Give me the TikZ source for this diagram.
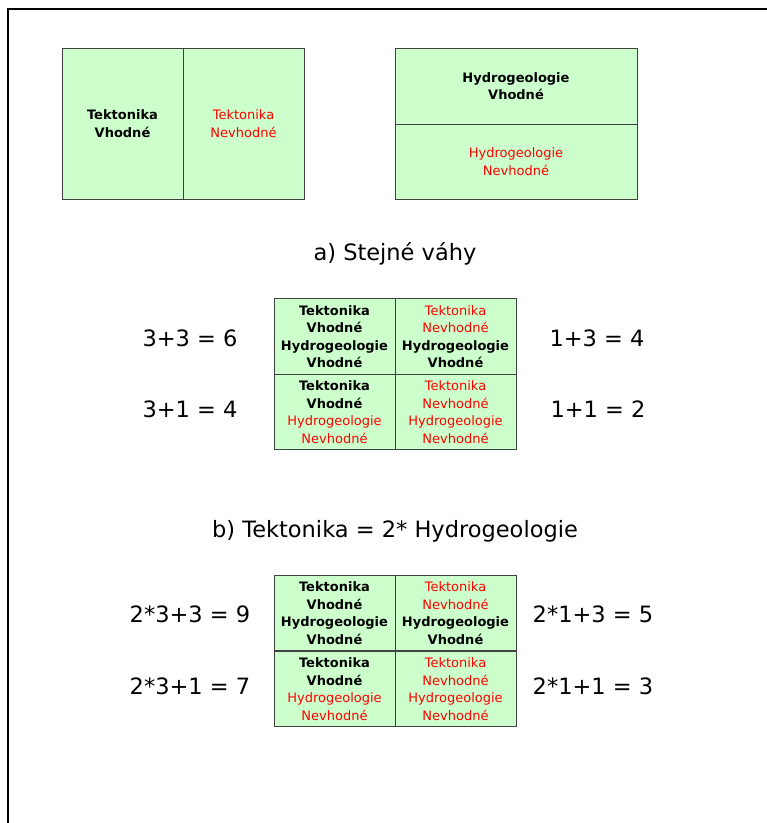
\documentclass[tikz,border=0pt]{standalone}
\usepackage{fontspec}
\setmainfont{DejaVu Sans}

\definecolor{cellgreen}{HTML}{CCFFCC}
\newcommand{\vh}[1]{\textbf{#1}}
\newcommand{\nv}[1]{\textcolor{red}{#1}}

\tikzset{
    cell/.style={draw=black!75, line width=1pt, fill=cellgreen, align=center,
        inner sep=0pt, font=\fontsize{13}{17.5}\selectfont},
    quad/.style={cell, minimum width=121pt, minimum height=75.5pt},
    eq/.style={font=\fontsize{22.5}{27}\selectfont},
}

\begin{document}
\begin{tikzpicture}[x=1pt,y=-1pt]
    \useasboundingbox (0,0) rectangle (767,823);

    % Frame
    \draw[line width=2pt] (7.5,823) -- (7.5,9) -- (767,9);

    % Tektonika
    \node[cell, minimum width=121pt, minimum height=151pt] (tekV) at (122.5,123.5)
        {\vh{Tektonika}\\\vh{Vhodné}};
    \node[cell, minimum width=121pt, minimum height=151pt] (tekN) at (243.5,123.5)
        {\nv{Tektonika}\\\nv{Nevhodné}};

    % Hydrogeologie
    \node[cell, minimum width=242pt, minimum height=76pt] (hydV) at (516,86)
        {\vh{Hydrogeologie}\\\vh{Vhodné}};
    \node[cell, minimum width=242pt, minimum height=75pt] (hydN) at (516,161.5)
        {\nv{Hydrogeologie}\\\nv{Nevhodné}};

    % Combination grids
    \foreach \g/\y/\yy in {a/336.5/412, b/613/689} {
        \node[quad] (\g VV) at (334.5,\y)
            {\vh{Tektonika}\\\vh{Vhodné}\\\vh{Hydrogeologie}\\\vh{Vhodné}};
        \node[quad] (\g NV) at (455.5,\y)
            {\nv{Tektonika}\\\nv{Nevhodné}\\\vh{Hydrogeologie}\\\vh{Vhodné}};
        \node[quad] (\g VN) at (334.5,\yy)
            {\vh{Tektonika}\\\vh{Vhodné}\\\nv{Hydrogeologie}\\\nv{Nevhodné}};
        \node[quad] (\g NN) at (455.5,\yy)
            {\nv{Tektonika}\\\nv{Nevhodné}\\\nv{Hydrogeologie}\\\nv{Nevhodné}};
    }

    % Titles
    \node[eq] (titleA) at (395,254) {a) Stejné váhy};
    \node[eq] (titleB) at (395,531) {b) Tektonika = 2* Hydrogeologie};

    % Equal weights
    \node[eq] (sumAVV) at (190,338) {3+3 = 6};
    \node[eq] (sumAVN) at (190,409) {3+1 = 4};
    \node[eq] (sumANV) at (597,338) {1+3 = 4};
    \node[eq] (sumANN) at (598,409) {1+1 = 2};

    % Double weight
    \node[eq] (sumBVV) at (190,614) {2*3+3 = 9};
    \node[eq] (sumBVN) at (190,686) {2*3+1 = 7};
    \node[eq] (sumBNV) at (593,614) {2*1+3 = 5};
    \node[eq] (sumBNN) at (593,686) {2*1+1 = 3};
\end{tikzpicture}
\end{document}
